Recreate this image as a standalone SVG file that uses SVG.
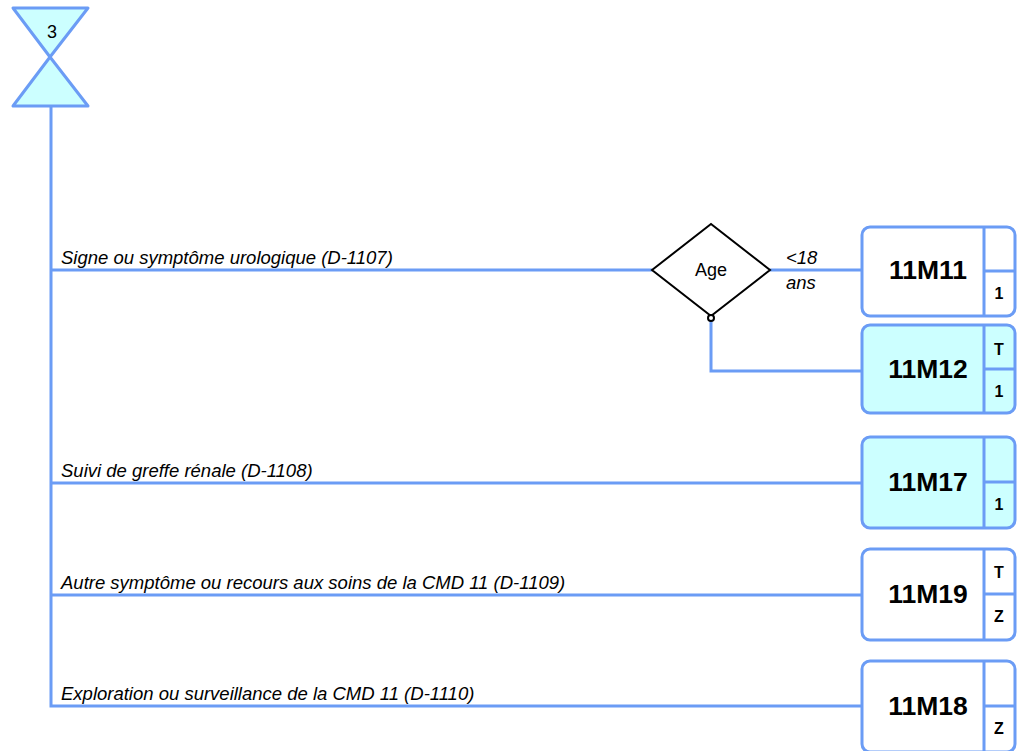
<svg xmlns="http://www.w3.org/2000/svg" width="1025" height="751" viewBox="0 0 1025 751">
<style>
.ln{fill:none;stroke:#6b9cf5;stroke-width:3}
.box{stroke:#6b9cf5;stroke-width:3}
.w{fill:#ffffff}
.c{fill:#ccffff}
.code{font-family:"Liberation Sans",Arial,sans-serif;font-weight:bold;font-size:26.5px;text-anchor:middle;fill:#000}
.tag{font-family:"Liberation Sans",Arial,sans-serif;font-weight:bold;font-size:16px;text-anchor:middle;fill:#000}
.lbl{font-family:"Liberation Sans",Arial,sans-serif;font-style:italic;font-size:18.5px;fill:#000}
.t{font-family:"Liberation Sans",Arial,sans-serif;font-size:18px;fill:#000}
</style>
<rect width="1025" height="751" fill="#ffffff"/>
<g id="connectors">
<path class="ln" d="M51 106 V706 H862"/>
<path class="ln" d="M51 270 H652"/>
<path class="ln" d="M770 270 H862"/>
<path class="ln" d="M711 321 V371 H862"/>
<path class="ln" d="M51 483 H862"/>
<path class="ln" d="M51 595 H862"/>
<text class="lbl" x="61" y="264">Signe ou symptôme urologique (D-1107)</text>
<text class="lbl" x="61" y="477">Suivi de greffe rénale (D-1108)</text>
<text class="lbl" x="61" y="589">Autre symptôme ou recours aux soins de la CMD 11 (D-1109)</text>
<text class="lbl" x="61" y="700">Exploration ou surveillance de la CMD 11 (D-1110)</text>
<text class="lbl" x="786" y="264">&lt;18</text>
<text class="lbl" x="786" y="289">ans</text>
</g>
<g id="start">
<path d="M13 8 H88 L50 57 Z" fill="#ccffff" stroke="#6b9cf5" stroke-width="3" stroke-linejoin="round"/>
<path d="M13 106 H88 L50 57 Z" fill="#ccffff" stroke="#6b9cf5" stroke-width="3" stroke-linejoin="round"/>
<text class="t" x="52" y="38" text-anchor="middle">3</text>
</g>
<g id="age">
<path d="M652 270 L711 224 L770 270 L711 316 Z" fill="#ffffff" stroke="#000" stroke-width="2"/>
<circle cx="711" cy="318" r="3" fill="#ffffff" stroke="#000" stroke-width="2"/>
<text class="t" x="711" y="276" text-anchor="middle">Age</text>
</g>
<g id="n11M11">
<rect class="box w" x="862" y="227" width="153" height="89" rx="8"/>
<path class="ln" d="M984 227 V316 M984 271 H1015"/>
<text class="code" x="928" y="279">11M11</text>
<text class="tag" x="999" y="299">1</text>
</g>
<g id="n11M12">
<rect class="box c" x="862" y="325" width="153" height="88" rx="8"/>
<path class="ln" d="M984 325 V413 M984 369 H1015"/>
<text class="code" x="928" y="378">11M12</text>
<text class="tag" x="999" y="355">T</text>
<text class="tag" x="999" y="397">1</text>
</g>
<g id="n11M17">
<rect class="box c" x="862" y="437" width="153" height="91" rx="8"/>
<path class="ln" d="M984 437 V528 M984 482 H1015"/>
<text class="code" x="928" y="491">11M17</text>
<text class="tag" x="999" y="510">1</text>
</g>
<g id="n11M19">
<rect class="box w" x="862" y="549" width="153" height="91" rx="8"/>
<path class="ln" d="M984 549 V640 M984 594 H1015"/>
<text class="code" x="928" y="603">11M19</text>
<text class="tag" x="999" y="578">T</text>
<text class="tag" x="999" y="622">Z</text>
</g>
<g id="n11M18">
<rect class="box w" x="862" y="661" width="153" height="91" rx="8"/>
<path class="ln" d="M984 661 V752 M984 706 H1015"/>
<text class="code" x="928" y="715">11M18</text>
<text class="tag" x="999" y="734">Z</text>
</g>
</svg>
